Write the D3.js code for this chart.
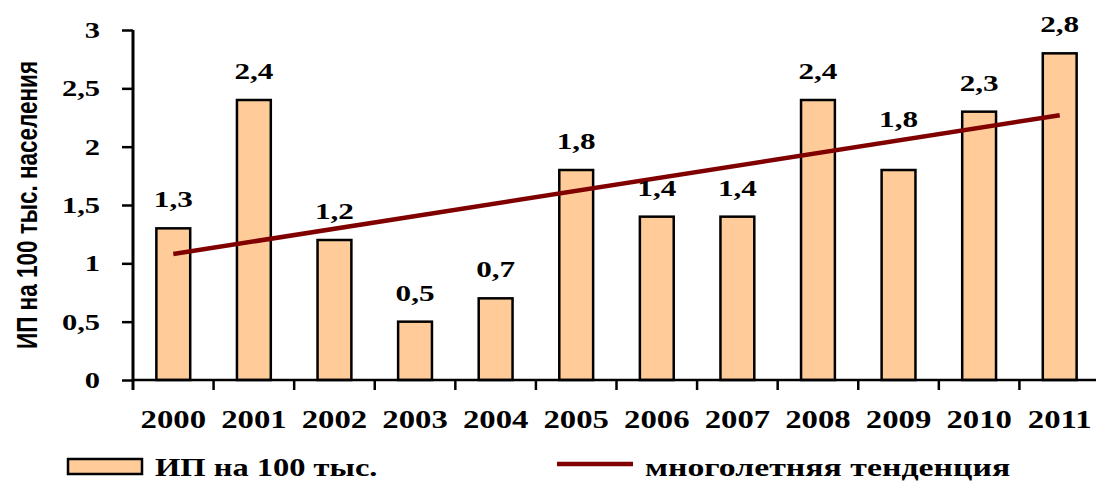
<!DOCTYPE html>
<html>
<head>
<meta charset="utf-8">
<script src="https://cdn.jsdelivr.net/npm/d3@7"></script>
<style>
  html, body { margin: 0; padding: 0; background: #fff; }
  svg { display: block; }
</style>
</head>
<body>
<svg id="chart" width="1096" height="481"></svg>
<script>
// Years on the category axis
const years = ["2000", "2001", "2002", "2003", "2004", "2005",
               "2006", "2007", "2008", "2009", "2010", "2011"];
// Incidence per 100 thousand population
const values = [1.3, 2.4, 1.2, 0.5, 0.7, 1.8, 1.4, 1.4, 2.4, 1.8, 2.3, 2.8];
// Long-term trend: value at the first and the last year
const trendYears = ["2000", "2011"];
const trendValues = [1.08, 2.27];
// Y-axis ticks
const yTicks = [0, 0.5, 1, 1.5, 2, 2.5, 3];

const seriesName = "ИП на 100 тыс.";
const trendName = "многолетняя тенденция";
const yTitle = "ИП на 100 тыс. населения";

const svg = d3.select("#chart");
const serif = "'Liberation Serif', 'Times New Roman', serif";
const sans = "'Liberation Sans', Arial, sans-serif";

const x = d3.scaleBand().domain(years).range([133, 1100]).paddingInner(0.58).paddingOuter(0.29);
const y = d3.scaleLinear().domain([0, 3]).range([380, 30]);
const fmt = v => String(v).replace(".", ",");
// the 2009 label sits higher, clear of the trend line
const labelLift = { "2009": 22 };

// place a text node at (px, py) with a horizontal stretch
function placeText(sel, px, py, sx) {
  sel.attr("transform", `translate(${px},${py}) scale(${sx},1)`);
}

// Bars
svg.append("g").selectAll("rect").data(values).join("rect")
  .attr("x", (d, i) => x(years[i]))
  .attr("y", d => y(d))
  .attr("width", x.bandwidth())
  .attr("height", d => y(0) - y(d))
  .attr("fill", "#FFCC99")
  .attr("stroke", "#000")
  .attr("stroke-width", 2.5);

// Trend line
const line = d3.line()
  .x((d, i) => x(trendYears[i]) + x.bandwidth() / 2)
  .y(d => y(d));
svg.append("path")
  .datum(trendValues)
  .attr("d", line)
  .attr("fill", "none")
  .attr("stroke", "#800000")
  .attr("stroke-width", 4.5);

// Value labels
svg.append("g").selectAll("text").data(values).join("text")
  .each(function (d, i) {
    const lift = labelLift[years[i]] || 0;
    placeText(d3.select(this), x(years[i]) + x.bandwidth() / 2, y(d) - 21 - lift, 1.3);
  })
  .attr("text-anchor", "middle")
  .attr("font-family", serif)
  .attr("font-weight", "bold")
  .attr("font-size", 24)
  .text(d => fmt(d));

// Y axis
const yAxis = d3.axisLeft(y).tickValues(yTicks).tickSize(11).tickFormat(() => "");
const gy = svg.append("g").attr("transform", "translate(133,0)").call(yAxis);
gy.select(".domain").remove();
gy.selectAll(".tick line").attr("stroke", "#000").attr("stroke-width", 2.5);
svg.append("line")
  .attr("x1", 133).attr("x2", 133)
  .attr("y1", y(3)).attr("y2", 390)
  .attr("stroke", "#000").attr("stroke-width", 3);
svg.append("g").selectAll("text").data(yTicks).join("text")
  .each(function (d) { placeText(d3.select(this), 100, y(d) + 8, 1.27); })
  .attr("text-anchor", "end")
  .attr("font-family", serif)
  .attr("font-weight", "bold")
  .attr("font-size", 24)
  .text(d => fmt(d));

// X axis: ticks at the band boundaries
const step = x.step();
const boundaries = years.map(yr => x(yr) - (step - x.bandwidth()) / 2);
svg.append("line")
  .attr("x1", 133).attr("x2", 1100)
  .attr("y1", y(0)).attr("y2", y(0))
  .attr("stroke", "#000").attr("stroke-width", 2.5);
svg.append("g").selectAll("line").data(boundaries.slice(1)).join("line")
  .attr("x1", d => d).attr("x2", d => d)
  .attr("y1", y(0)).attr("y2", y(0) + 10)
  .attr("stroke", "#000").attr("stroke-width", 2.5);
svg.append("g").selectAll("text").data(years).join("text")
  .each(function (d) { placeText(d3.select(this), x(d) + x.bandwidth() / 2, 428, 1.26); })
  .attr("text-anchor", "middle")
  .attr("font-family", serif)
  .attr("font-weight", "bold")
  .attr("font-size", 26)
  .text(d => d);

// Y-axis title
svg.append("text")
  .attr("transform", "translate(37,205) rotate(-90) scale(1,1.35)")
  .attr("text-anchor", "middle")
  .attr("font-family", sans)
  .attr("font-weight", "bold")
  .attr("font-size", 22.5)
  .text(yTitle);

// Legend
const legend = svg.append("g");
legend.append("rect")
  .attr("x", 68).attr("y", 459).attr("width", 74).attr("height", 15)
  .attr("fill", "#FFCC99").attr("stroke", "#000").attr("stroke-width", 2.5);
legend.append("text")
  .call(s => placeText(s, 155, 476, 1.25))
  .attr("font-family", serif)
  .attr("font-weight", "bold")
  .attr("font-size", 26)
  .text(seriesName);
legend.append("line")
  .attr("x1", 557).attr("x2", 633).attr("y1", 464).attr("y2", 464)
  .attr("stroke", "#800000").attr("stroke-width", 4.5);
legend.append("text")
  .call(s => placeText(s, 645, 476, 1.3))
  .attr("font-family", serif)
  .attr("font-weight", "bold")
  .attr("font-size", 26)
  .text(trendName);
</script>
</body>
</html>
